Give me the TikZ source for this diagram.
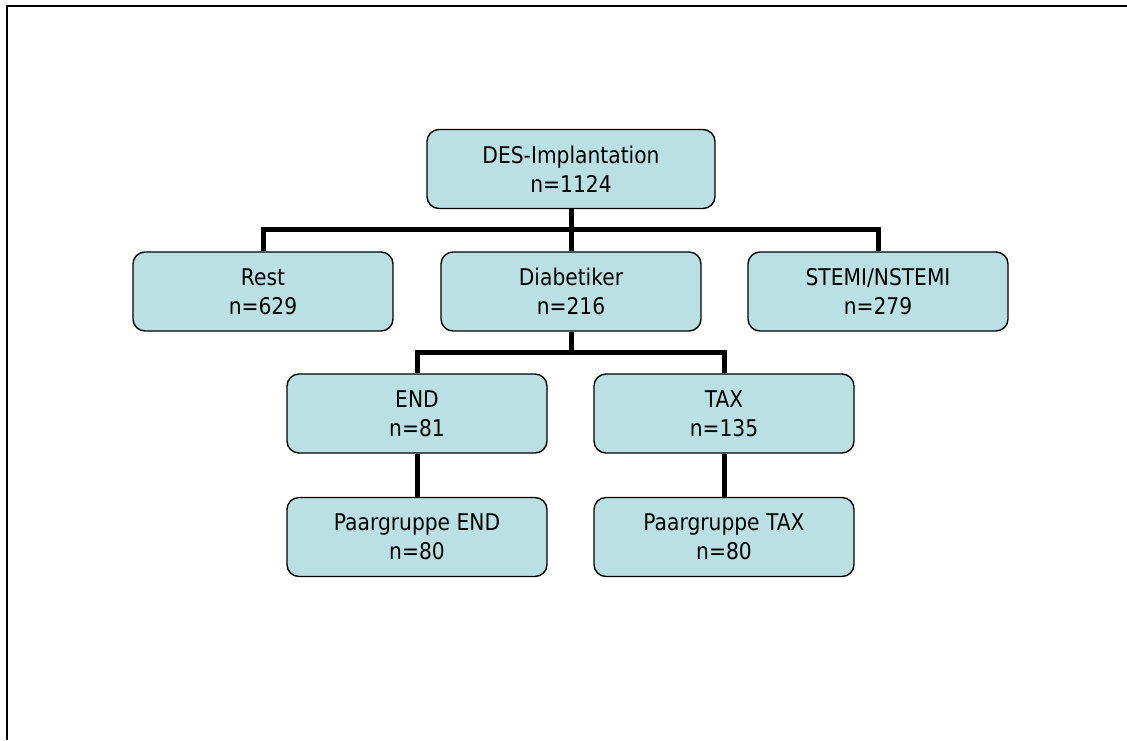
\documentclass[tikz,border=0pt]{standalone}
\usepackage{fontspec}
\setmainfont{DejaVu Sans}[FakeStretch=0.88]
\definecolor{boxfill}{RGB}{187,224,227}
\tikzset{
  box/.style={draw=black, line width=1.4pt, fill=boxfill, rounded corners=12pt,
    minimum width=260pt, minimum height=79pt, align=center, inner sep=0pt,
    font=\fontsize{23pt}{29pt}\selectfont},
  conn/.style={draw=black, line width=5pt, line join=miter},
  frame/.style={draw=black, line width=2pt}
}
\begin{document}
\begin{tikzpicture}[x=1pt,y=-1pt]
\useasboundingbox (0,0) rectangle (1127,740);
\draw[frame] (7,740) -- (7,6) -- (1127,6);
\node[box, minimum width=288pt] (des) at (571,169) {DES-Implantation\\n=1124};
\node[box] (rest) at (263,291.5) {Rest\\n=629};
\node[box] (diab) at (571,291.5) {Diabetiker\\n=216};
\node[box] (stemi) at (878,291.5) {STEMI/NSTEMI\\n=279};
\node[box] (end) at (417,413.5) {END\\n=81};
\node[box] (tax) at (724,413.5) {TAX\\n=135};
\node[box] (pend) at (417,537) {Paargruppe END\\n=80};
\node[box] (ptax) at (724,537) {Paargruppe TAX\\n=80};
\coordinate (j1) at (571,229.5);
\coordinate (j2) at (571,352.5);
\draw[conn] (des.south) -- (j1);
\draw[conn] (rest.north) -- (rest.north |- j1) -- (stemi.north |- j1) -- (stemi.north);
\draw[conn] (j1) -- (diab.north);
\draw[conn] (diab.south) -- (j2);
\draw[conn] (end.north) -- (end.north |- j2) -- (tax.north |- j2) -- (tax.north);
\draw[conn] (end.south) -- (pend.north);
\draw[conn] (tax.south) -- (ptax.north);
\end{tikzpicture}
\end{document}
